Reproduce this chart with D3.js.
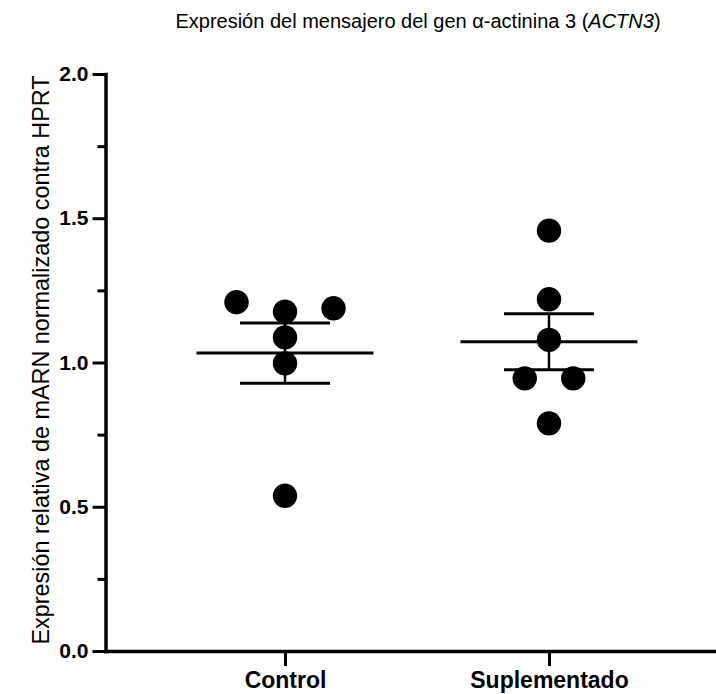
<!DOCTYPE html>
<html>
<head>
<meta charset="utf-8">
<script src="https://cdn.jsdelivr.net/npm/d3@7"></script>
<style>
  html, body { margin: 0; padding: 0; background: #fff; }
  svg { display: block; font-family: "Liberation Sans", Arial, Helvetica, sans-serif; }
</style>
</head>
<body>
<svg id="chart" width="716" height="694"></svg>
<script>
// ---- data ----
const categories = ["Control", "Suplementado"];
const controlValues = [1.209, 1.176, 1.188, 1.087, 0.997, 0.538];
const suplementadoValues = [1.457, 1.219, 1.078, 0.945, 0.945, 0.789];
const yMajorTicks = [0.0, 0.5, 1.0, 1.5, 2.0];
const yMinorTicks = [0.25, 0.75, 1.25, 1.75];
const titleMain = "Expresión del mensajero del gen α-actinina 3 (";
const titleItalic = "ACTN3";
const titleEnd = ")";
const yAxisTitle = "Expresión relativa de mARN normalizado contra HPRT";

const groups = [
  { name: categories[0], values: controlValues },
  { name: categories[1], values: suplementadoValues }
];

// ---- layout ----
const svg = d3.select("#chart");
const W = 716, H = 694;
svg.append("rect").attr("width", W).attr("height", H).attr("fill", "#fff");

const axisX = 105.5, axisY = 651, topY = 74;
const y = d3.scaleLinear().domain([0, 2]).range([axisY, topY]);
const x = d3.scalePoint().domain(categories).range([axisX, 728.5]).padding(0.68);

const R = 12.2;          // dot radius
const rowStep = 48.5;    // spacing between dots in one row
const meanHalf = 88.5, capHalf = 45;

// y axis major
const gy = svg.append("g").attr("transform", `translate(${axisX},0)`)
  .call(d3.axisLeft(y).tickValues(yMajorTicks).tickSize(13).tickSizeOuter(0)
    .tickFormat(d3.format(".1f")));
gy.select(".domain").attr("stroke", "#000").attr("stroke-width", 3.5).attr("stroke-linecap", "square");
gy.selectAll(".tick line").attr("stroke", "#000").attr("stroke-width", 3);
gy.selectAll(".tick text").attr("font-size", 21).attr("font-weight", "bold")
  .attr("fill", "#000").attr("font-family", "Liberation Sans, Arial, sans-serif").attr("x", -17);

// y axis minor
const gyMinor = svg.append("g").attr("transform", `translate(${axisX},0)`)
  .call(d3.axisLeft(y).tickValues(yMinorTicks).tickSize(8).tickSizeOuter(0).tickFormat(""));
gyMinor.select(".domain").remove();
gyMinor.selectAll(".tick line").attr("stroke", "#000").attr("stroke-width", 3);

// x axis
const gx = svg.append("g").attr("transform", `translate(0,${axisY})`)
  .call(d3.axisBottom(x).tickSize(15).tickSizeOuter(0));
gx.select(".domain").attr("stroke", "#000").attr("stroke-width", 3.5).attr("stroke-linecap", "square");
gx.selectAll(".tick line").attr("stroke", "#000").attr("stroke-width", 3);
gx.selectAll(".tick text").attr("font-size", 23).attr("font-weight", "bold")
  .attr("fill", "#000").attr("font-family", "Liberation Sans, Arial, sans-serif")
  .attr("y", 37).attr("dy", 0);

// ---- marks ----
groups.forEach(g => {
  const cx = x(g.name);
  const m = d3.mean(g.values);
  const sem = d3.deviation(g.values) / Math.sqrt(g.values.length);
  const eg = svg.append("g").attr("stroke", "#000");
  eg.append("line").attr("x1", cx).attr("x2", cx).attr("y1", y(m + sem)).attr("y2", y(m - sem)).attr("stroke-width", 2.5);
  eg.append("line").attr("x1", cx - meanHalf).attr("x2", cx + meanHalf).attr("y1", y(m)).attr("y2", y(m)).attr("stroke-width", 3);
  [m + sem, m - sem].forEach(v => {
    eg.append("line").attr("x1", cx - capHalf).attr("x2", cx + capHalf).attr("y1", y(v)).attr("y2", y(v)).attr("stroke-width", 3);
  });

  // row-based scatter layout: points closer than one diameter share a row
  const rows = [];
  g.values.forEach(v => {
    const py = y(v);
    const row = rows.find(r => Math.abs(r.y0 - py) < 2 * R);
    if (row) row.items.push(v); else rows.push({ y0: py, items: [v] });
  });
  const pts = [];
  rows.forEach(r => {
    const n = r.items.length;
    r.items.forEach((v, i) => pts.push({ v, dx: (i - (n - 1) / 2) * rowStep }));
  });
  svg.append("g").selectAll("circle").data(pts).join("circle")
    .attr("cx", d => cx + d.dx).attr("cy", d => y(d.v)).attr("r", R).attr("fill", "#000");
});

// ---- titles ----
const t = svg.append("text").attr("x", 418).attr("y", 28).attr("text-anchor", "middle")
  .attr("font-size", 20).attr("fill", "#000");
t.append("tspan").text(titleMain);
t.append("tspan").attr("font-style", "italic").text(titleItalic);
t.append("tspan").text(titleEnd);

svg.append("text").attr("transform", `translate(49,360) rotate(-90)`)
  .attr("text-anchor", "middle").attr("font-size", 23.4).attr("fill", "#000").text(yAxisTitle);
</script>
</body>
</html>
